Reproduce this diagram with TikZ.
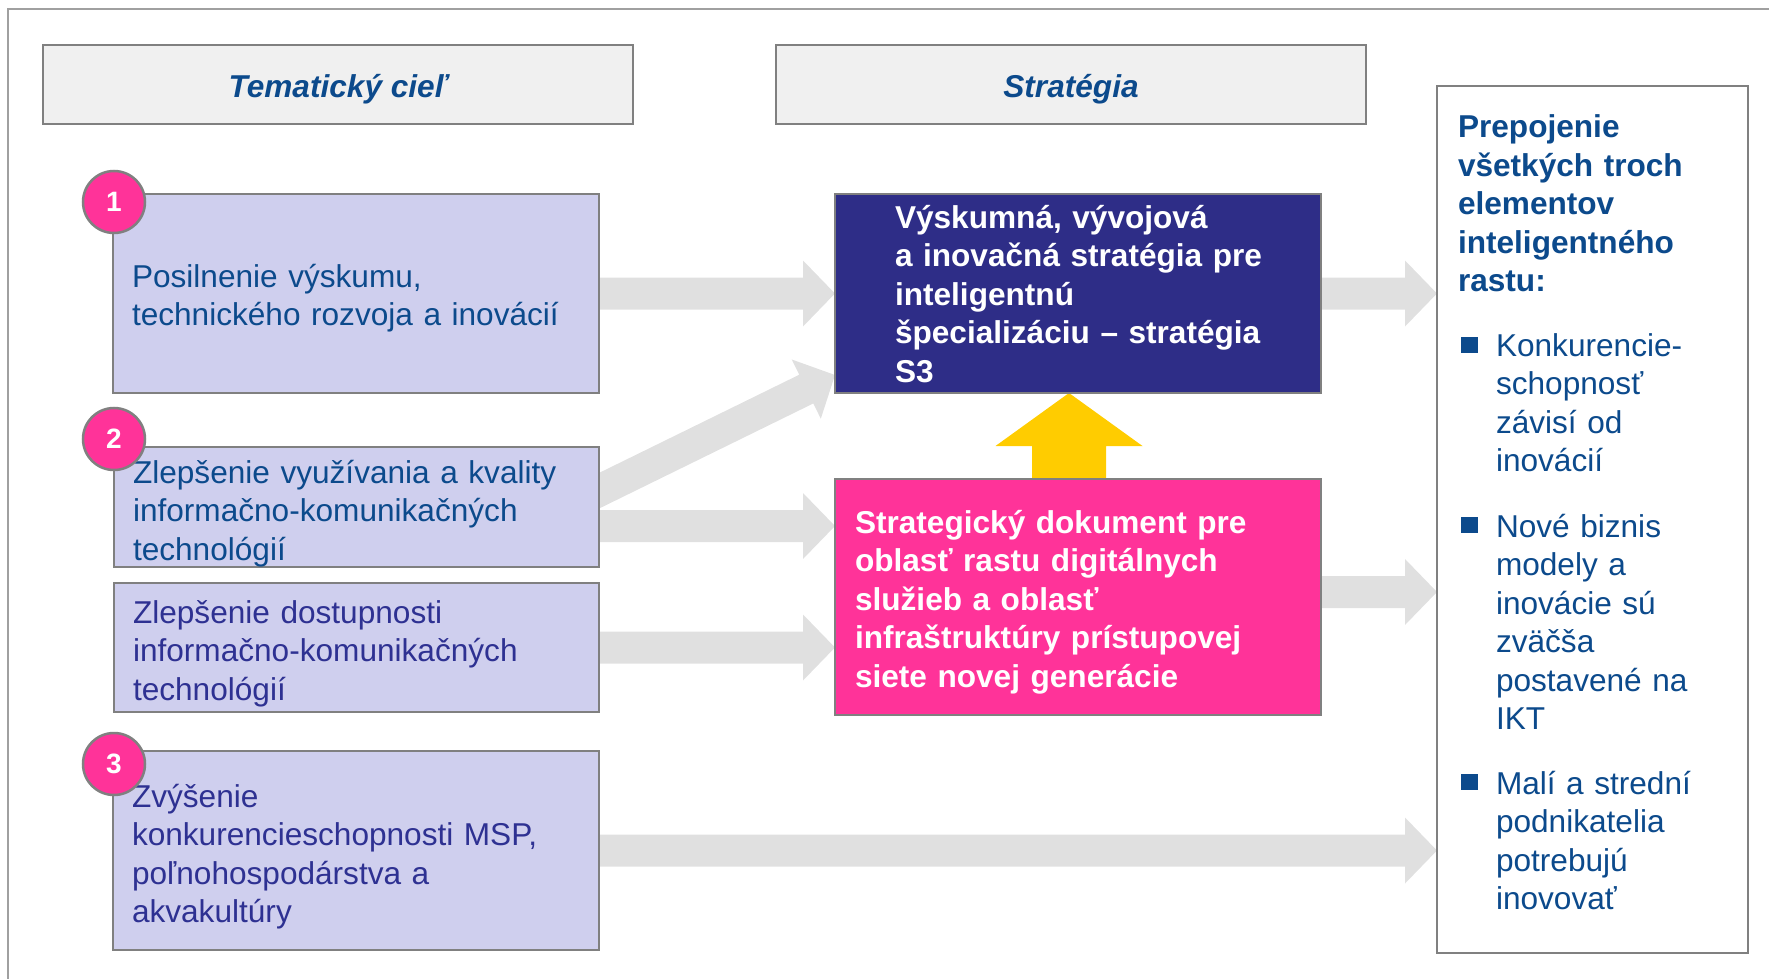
\documentclass[tikz,border=0pt]{standalone}
\usepackage{fontspec}
\setmainfont{Liberation Sans}
\usetikzlibrary{calc,backgrounds}
\definecolor{txtblue}{RGB}{12,74,140}
\definecolor{txtpurple}{RGB}{46,49,146}
\definecolor{lav}{RGB}{207,207,238}
\definecolor{navy}{RGB}{46,45,135}
\definecolor{hotpink}{RGB}{255,51,153}
\definecolor{hdrfill}{RGB}{240,240,240}
\definecolor{bordergray}{RGB}{128,128,128}
\definecolor{framegray}{RGB}{160,160,160}
\definecolor{arrowgray}{RGB}{224,224,224}
\definecolor{gold}{RGB}{255,204,0}
\newcommand\fatarrow[2]{%
  \coordinate (fas) at (#1);
  \coordinate (fae) at (#2);
  \coordinate (fah) at ($(fae)!16pt!(fas)$);
  \fill[arrowgray] ($(fas)!8pt!90:(fae)$) -- ($(fah)!8pt!-90:(fas)$) -- ($(fah)!16.5pt!-90:(fas)$) -- (fae)
     -- ($(fah)!16.5pt!90:(fas)$) -- ($(fah)!8pt!90:(fas)$) -- ($(fas)!8pt!-90:(fae)$) -- cycle;
}
\begin{document}
\begin{tikzpicture}[x=0.5pt,y=-0.5pt,
  box/.style={rectangle,draw=bordergray,line width=1.25pt,inner sep=0pt,outer sep=0pt,anchor=north west},
  txt/.style={inner sep=0pt,outer sep=0pt,anchor=base west,align=left,font=\fontsize{15.8pt}{19.2pt}\selectfont},
  txtb/.style={txt,font=\fontsize{15.8pt}{19.2pt}\selectfont\bfseries},
  hdrtxt/.style={inner sep=0pt,anchor=base,text=txtblue,font=\fontsize{15.8pt}{19.2pt}\selectfont\bfseries\itshape},
  circ/.style={circle,draw=bordergray,line width=1.25pt,fill=hotpink,minimum size=31pt,inner sep=0pt,text=white,font=\fontsize{14pt}{16pt}\selectfont\bfseries}
]
\useasboundingbox (0,0) rectangle (1769,979);
% outer frame
\draw[framegray,line width=1pt] (8,990) -- (8,9) -- (1780,9);

% headers
\node[box,fill=hdrfill,minimum width=295pt,minimum height=39.5pt] (hdr1) at (43,45) {};
\node[box,fill=hdrfill,minimum width=295pt,minimum height=39.5pt] (hdr2) at (776,45) {};
\node[hdrtxt] (hdr1t) at (338,97.5) {Tematický cieľ};
\node[hdrtxt] (hdr2t) at (1071,97.5) {Stratégia};

% left boxes
\node[box,fill=lav,minimum width=243pt,minimum height=99.5pt] (b1) at (113,194) {};
\node[box,fill=lav,minimum width=242.5pt,minimum height=60pt] (b2) at (114,447) {};
\node[box,fill=lav,minimum width=242.5pt,minimum height=64.5pt] (b3) at (114,583) {};
\node[box,fill=lav,minimum width=243pt,minimum height=99.5pt] (b4) at (113,751) {};

% middle boxes
\node[box,fill=navy,minimum width=243pt,minimum height=99.5pt] (blue) at (835,194) {};
\node[box,fill=hotpink,minimum width=243pt,minimum height=118pt] (pink) at (835,479) {};

% right box
\node[box,fill=white,minimum width=155.5pt,minimum height=433.5pt] (rbox) at (1437,86) {};

% connectors (behind boxes)
\begin{pgfonlayer}{background}
\coordinate (e1) at (b1.east -| blue.west);
\fatarrow{b1.east}{e1}
\coordinate (d2s) at ([xshift=-14.5pt,yshift=1pt]b2.east);
\coordinate (d2e) at ([yshift=9pt]blue.south west);
\fatarrow{d2s}{d2e}
\coordinate (a2s) at ([yshift=-9.5pt]b2.east);
\coordinate (a2e) at (a2s -| pink.west);
\fatarrow{a2s}{a2e}
\coordinate (a3e) at (b3.east -| pink.west);
\fatarrow{b3.east}{a3e}
\coordinate (r1e) at (blue.east -| rbox.west);
\fatarrow{blue.east}{r1e}
\coordinate (p2s) at ([yshift=2.5pt]pink.east);
\coordinate (p2e) at (p2s -| rbox.west);
\fatarrow{p2s}{p2e}
\coordinate (a4e) at (b4.east -| rbox.west);
\fatarrow{b4.east}{a4e}
\coordinate (ytip) at ([xshift=-4.5pt]blue.south);
\fill[gold] (ytip) -- ++(73.5,53) -- ++(-36.5,0) -- ++(0,36) -- ++(-74,0) -- ++(0,-36) -- ++(-36.5,0) -- cycle;
\end{pgfonlayer}

% texts
\node[txt,text=txtblue,text width=235pt] (t1) at (132,287.5) {Posilnenie výskumu,\\technického rozvoja a inovácií};
\node[txt,text=txtblue,text width=235pt] (t2) at (133,483.5) {Zlepšenie využívania a kvality\\informačno-komunikačných\\technológií};
\node[txt,text=txtpurple,text width=235pt] (t3) at (133,623.5) {Zlepšenie dostupnosti\\informačno-komunikačných\\technológií};
\node[txt,text=txtpurple,text width=235pt] (t4) at (132,807.5) {Zvýšenie\\konkurencieschopnosti MSP,\\poľnohospodárstva a\\akvakultúry};
\node[txtb,text=white,text width=215pt] (tblue) at (895,228.5) {Výskumná, vývojová\\a inovačná stratégia pre\\inteligentnú\\špecializáciu – stratégia\\S3};
\node[txtb,text=white,text width=225pt] (tpink) at (855,533.5) {Strategický dokument pre\\oblasť rastu digitálnych\\služieb a oblasť\\infraštruktúry prístupovej\\siete novej generácie};
\node[txtb,text=txtblue,text width=140pt] (rh) at (1458,138) {Prepojenie\\všetkých troch\\elementov\\inteligentného\\rastu:};
\node[txt,text=txtblue,text width=125pt] (bl1) at (1496,356.5) {Konkurencie-\\schopnosť\\závisí od\\inovácií};
\node[txt,text=txtblue,text width=125pt] (bl2) at (1496,537.5) {Nové biznis\\modely a\\inovácie sú\\zväčša\\postavené na\\IKT};
\node[txt,text=txtblue,text width=125pt] (bl3) at (1496,794.5) {Malí a strední\\podnikatelia\\potrebujú\\inovovať};
\fill[txtblue] (1461,337) rectangle (1478,353);
\fill[txtblue] (1461,517) rectangle (1478,533);
\fill[txtblue] (1461,774) rectangle (1478,790);

% number circles
\node[circ] (c1) at (114,202) {1};
\node[circ] (c2) at (114,439) {2};
\node[circ] (c3) at (114,764) {3};
\end{tikzpicture}
\end{document}
